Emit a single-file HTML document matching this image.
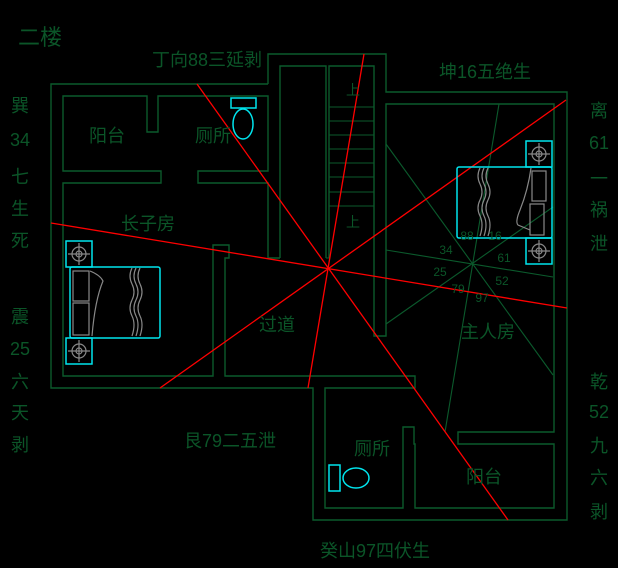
<!DOCTYPE html>
<html><head><meta charset="utf-8"><style>
html,body{margin:0;padding:0;background:#000;}
svg{display:block;}
text{font-family:"Liberation Sans","Noto Sans CJK SC",sans-serif;fill:#0b5528;}
</style></head><body>
<svg width="618" height="568" viewBox="0 0 618 568" xmlns="http://www.w3.org/2000/svg">
<rect width="618" height="568" fill="#000"/>
<g stroke="#0b5a2c" stroke-width="1.4" fill="none">
<polyline points="268,84 51,84 51,388 313,388 313,520 567,520 567,92 386,92 386,54 268,54 268,84"/>
<polyline points="280,258 280,66 326,66 326,258"/>
<polyline points="329,258 329,66 374,66 374,336 386,336 386,104 554,104 554,432 458,432 458,444 554,444 554,508 415,508 415,444 414,444 414,427 403,427 403,508 325,508 325,388 415,388 415,376 225,376 225,258 229,258 229,245 213,245 213,376 63,376 63,183 161,183 161,171 63,171 63,96 147,96 147,132 158,132 158,96 268,96 268,171 198,171 198,183 268,183 268,258 280,258"/>
<g stroke-width="1.1">
<line x1="329" y1="107" x2="374" y2="107"/><line x1="329" y1="121" x2="374" y2="121"/>
<line x1="329" y1="135" x2="374" y2="135"/><line x1="329" y1="149" x2="374" y2="149"/>
<line x1="329" y1="163" x2="374" y2="163"/><line x1="329" y1="177" x2="374" y2="177"/>
<line x1="329" y1="192" x2="374" y2="192"/><line x1="329" y1="206" x2="374" y2="206"/>
<line x1="326" y1="258" x2="329" y2="258"/>
<line x1="386" y1="144" x2="553" y2="375"/>
<line x1="499" y1="104" x2="445" y2="432"/>
<line x1="386" y1="250" x2="553" y2="277"/>
<line x1="386" y1="324" x2="553" y2="207"/>
</g>
</g>
<g stroke="#ff0000" stroke-width="1.3">
<line x1="197" y1="84" x2="508" y2="520"/>
<line x1="51" y1="223" x2="567" y2="308"/>
<line x1="364" y1="54" x2="308" y2="388"/>
<line x1="566" y1="100" x2="160" y2="388"/>
</g>
<g stroke="#00e5ee" stroke-width="1.5" fill="none">
<rect x="66" y="241" width="26" height="26"/><rect x="66" y="338" width="26" height="26"/>
<rect x="70" y="267" width="90" height="71" rx="2"/>
<rect x="526" y="141" width="26" height="26"/><rect x="526" y="238" width="26" height="26"/>
<rect x="457" y="167" width="95" height="71" rx="2"/>
<rect x="231" y="98" width="25" height="10"/><ellipse cx="243" cy="124" rx="10" ry="15"/>
<rect x="329" y="465" width="11" height="26"/><ellipse cx="356" cy="478" rx="13" ry="10"/>
</g>
<g stroke="#888" stroke-width="1.2" fill="none">
<circle cx="79" cy="254" r="7"/><circle cx="79" cy="254" r="3"/><line x1="68" y1="254" x2="90" y2="254"/><line x1="79" y1="243" x2="79" y2="265"/>
<circle cx="79" cy="351" r="7"/><circle cx="79" cy="351" r="3"/><line x1="68" y1="351" x2="90" y2="351"/><line x1="79" y1="340" x2="79" y2="362"/>
<circle cx="539" cy="154" r="7"/><circle cx="539" cy="154" r="3"/><line x1="528" y1="154" x2="550" y2="154"/><line x1="539" y1="143" x2="539" y2="165"/>
<circle cx="539" cy="251" r="7"/><circle cx="539" cy="251" r="3"/><line x1="528" y1="251" x2="550" y2="251"/><line x1="539" y1="240" x2="539" y2="262"/>
<rect x="73" y="271" width="16" height="30"/><rect x="73" y="303" width="16" height="32"/>
<path d="M90,271 Q100,275 103,281 Q95,300 92,336"/>
<path d="M132,268 q-4,8 0,16 q4,8 0,16 q-4,8 0,16 q4,8 0,20 M136,268 q-4,8 0,16 q4,8 0,16 q-4,8 0,16 q4,8 0,20 M140,268 q-4,8 0,16 q4,8 0,16 q-4,8 0,16 q4,8 0,20"/>
<rect x="532" y="171" width="14" height="30"/><rect x="530" y="204" width="14" height="31"/>
<path d="M531,168 Q528,190 520,210 Q515,222 518,225 L530,230"/>
<path d="M480,168 q-4,8 0,16 q4,8 0,16 q-4,8 0,16 q4,8 0,20 M484,168 q-4,8 0,16 q4,8 0,16 q-4,8 0,16 q4,8 0,20 M488,168 q-4,8 0,16 q4,8 0,16 q-4,8 0,16 q4,8 0,20"/>
</g>
<g font-size="22"><text x="18" y="45">二楼</text></g>
<g font-size="18" text-anchor="middle">
<text x="207" y="66">丁向88三延剥</text>
<text x="485" y="78">坤16五绝生</text>
<text x="230" y="447">艮79二五泄</text>
<text x="375" y="557">癸山97四伏生</text>
<text x="107" y="142">阳台</text>
<text x="213" y="142">厕所</text>
<text x="148" y="230">长子房</text>
<text x="277" y="331">过道</text>
<text x="488" y="338">主人房</text>
<text x="372" y="455">厕所</text>
<text x="484" y="483">阳台</text>
<text x="353" y="95" font-size="14">上</text>
<text x="353" y="227" font-size="14">上</text>
<text x="20" y="112">巽</text><text x="20" y="146">34</text><text x="20" y="183">七</text><text x="20" y="215">生</text><text x="20" y="247">死</text>
<text x="20" y="323">震</text><text x="20" y="355">25</text><text x="20" y="388">六</text><text x="20" y="419">天</text><text x="20" y="451">剥</text>
<text x="599" y="117">离</text><text x="599" y="149">61</text><text x="599" y="185">一</text><text x="599" y="216">祸</text><text x="599" y="250">泄</text>
<text x="599" y="388">乾</text><text x="599" y="418">52</text><text x="599" y="452">九</text><text x="599" y="484">六</text><text x="599" y="518">剥</text>
</g>
<g font-size="12" text-anchor="middle">
<text x="467" y="240">88</text><text x="495" y="240">16</text>
<text x="446" y="254">34</text><text x="504" y="262">61</text>
<text x="440" y="276">25</text><text x="502" y="285">52</text>
<text x="458" y="293">79</text><text x="482" y="302">97</text>
</g>
</svg>
</body></html>
